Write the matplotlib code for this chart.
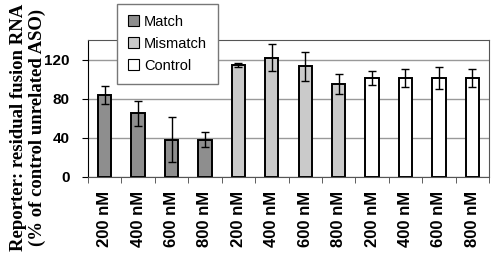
import numpy as np
import matplotlib.pyplot as plt
from matplotlib.patches import Patch

# --- datos ---
conc = ["200 nM", "400 nM", "600 nM", "800 nM"]
groups = ["Match", "Mismatch", "Control"]
match_vals = [84, 65, 38, 38]
match_err = [9.5, 13, 23, 7.5]
mismatch_vals = [114, 122, 113, 95]
mismatch_err = [2, 14, 15, 10]
control_vals = [101, 101, 101, 101]
control_err = [7, 9, 11, 9]

fills = {"Match": "#8e8e8e", "Mismatch": "#cacaca", "Control": "white"}

vals = match_vals + mismatch_vals + control_vals
errs = match_err + mismatch_err + control_err
labels = conc * 3
colors = [fills[g] for g in groups for _ in conc]
x = np.arange(len(vals))

fig = plt.figure(figsize=(4.93, 2.57), dpi=100)
ax = fig.add_axes([88 / 493, 80 / 257, 401 / 493, 137 / 257])

ax.set_axisbelow(True)
ax.yaxis.grid(True, color="#999999", lw=1)
ax.bar(x, vals, width=0.4, color=colors, edgecolor="black", lw=1.4, zorder=2)
ax.errorbar(x, vals, yerr=errs, fmt="none", ecolor="black", elinewidth=1,
            capsize=3, capthick=1, zorder=3)

ax.set_xlim(-0.5, len(vals) - 0.5)
ax.set_ylim(0, 140)
ax.set_yticks([0, 40, 80, 120])
ax.set_yticklabels(["0", "40", "80", "120"], fontsize=11, fontweight="bold",
                   family="Liberation Sans")
ax.set_xticks(x)
ax.set_xticklabels(labels, rotation=90, fontsize=12, fontweight="bold",
                   family="Liberation Sans")
ax.tick_params(axis="x", length=0, pad=10)
ax.set_xticks(np.arange(-0.5, len(vals)), minor=True)
ax.tick_params(axis="x", which="minor", length=4, color="#444444")
ax.tick_params(axis="y", length=4, pad=9)

for s in ["top", "right", "bottom"]:
    ax.spines[s].set_color("#555555")

ax.set_ylabel("Reporter: residual fusion RNA\n(% of control unrelated ASO)",
              fontsize=13.5, fontweight="bold", family="Liberation Serif",
              linespacing=1.1)
ax.yaxis.set_label_coords(-0.105, 0.36)

handles = [Patch(facecolor=fills[g], edgecolor="black", lw=0.8) for g in groups]
leg = ax.legend(handles, groups, loc="upper left", bbox_to_anchor=(0.072, 1.265),
                frameon=True, fancybox=False, framealpha=1,
                edgecolor="#777777", handlelength=0.75, handleheight=0.75,
                handletextpad=0.35, borderpad=0.75, labelspacing=0.55,
                borderaxespad=0, prop={"family": "Liberation Sans", "size": 10.5})
leg.set_zorder(5)

fig.savefig("out.png", dpi=100)
